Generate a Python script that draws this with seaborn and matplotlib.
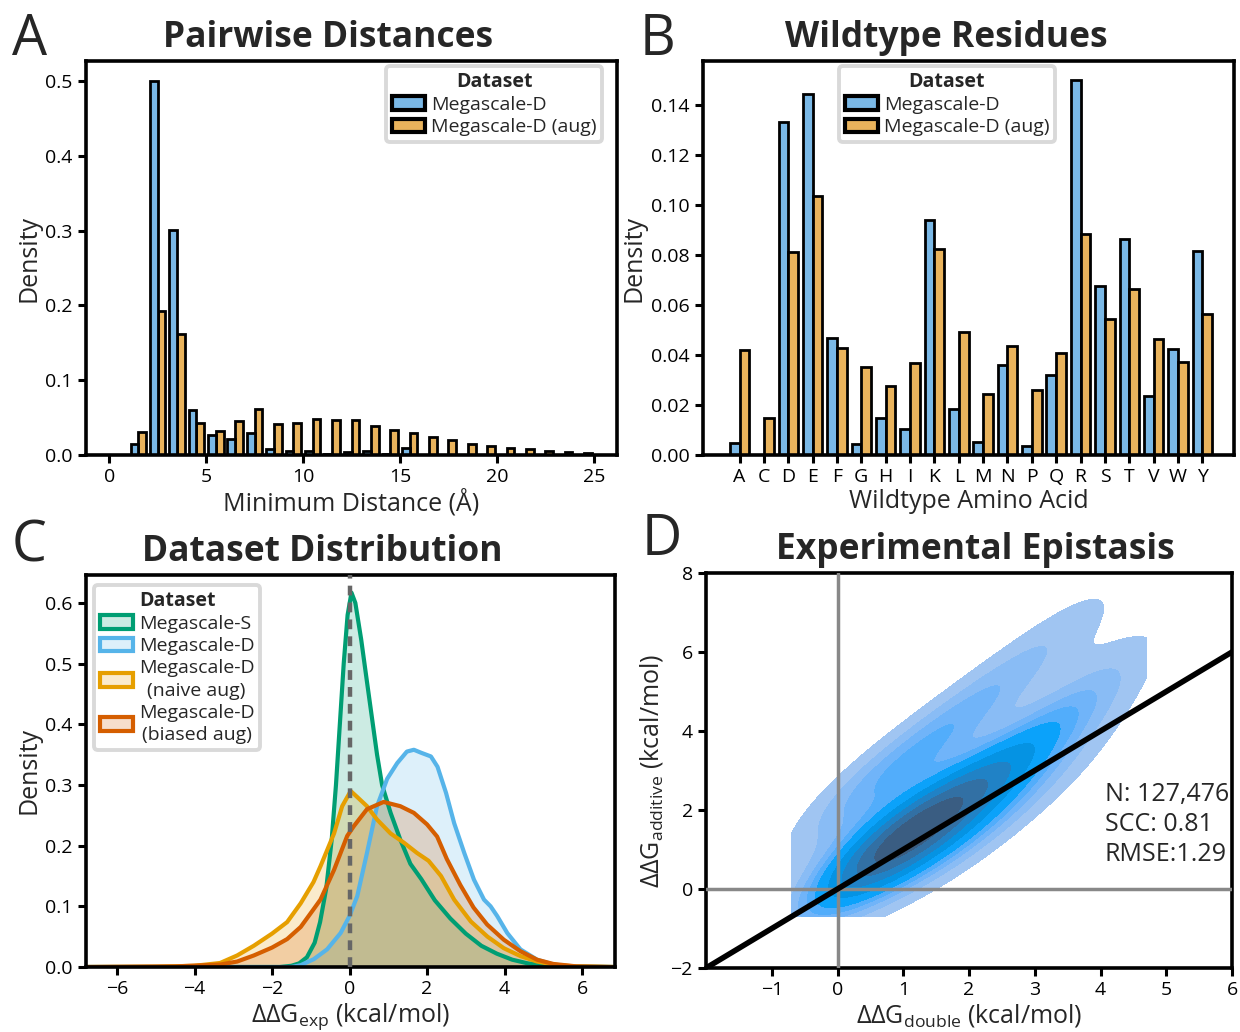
import numpy as np
import pandas as pd
import matplotlib
matplotlib.use("Agg")
import matplotlib.pyplot as plt
import seaborn as sns
from matplotlib.patches import Patch
from matplotlib.colors import to_rgba

# ---------------- data ----------------
# Panel A: pairwise minimum distance histogram (bins of 1 Å, left edges 1..24)
dist_bin_left = list(range(1, 25))
dist_megascale_d = [0.015, 0.500, 0.301, 0.060, 0.027, 0.021, 0.030, 0.008, 0.005, 0.006,
                    0.002, 0.004, 0.005, 0.002, 0.010, 0.0005, 0.0, 0.0, 0.0, 0.0,
                    0.0, 0.0, 0.0, 0.0]
dist_megascale_d_aug = [0.031, 0.193, 0.162, 0.043, 0.032, 0.046, 0.062, 0.041, 0.043, 0.048,
                        0.047, 0.047, 0.039, 0.033, 0.030, 0.024, 0.0196, 0.0147, 0.0124, 0.010,
                        0.008, 0.0058, 0.0044, 0.0027]

# Panel B: wildtype residue densities
aa_letters = ["A", "C", "D", "E", "F", "G", "H", "I", "K", "L",
              "M", "N", "P", "Q", "R", "S", "T", "V", "W", "Y"]
wt_megascale_d = [0.0047, 0.0, 0.133, 0.1444, 0.0469, 0.0043, 0.0147, 0.0104, 0.0939, 0.0184,
                  0.0053, 0.0359, 0.0036, 0.0319, 0.150, 0.0676, 0.0863, 0.0236, 0.0423, 0.0816]
wt_megascale_d_aug = [0.042, 0.0147, 0.081, 0.1036, 0.0429, 0.035, 0.0277, 0.0367, 0.0825, 0.0493,
                      0.0245, 0.0437, 0.0259, 0.0407, 0.0884, 0.0545, 0.0663, 0.0464, 0.0371, 0.0564]

# Panel C: density curves of ddG
s_x = [-6.8, -1.8, -1.5, -1.3, -1.1, -0.9, -0.76, -0.6, -0.46, -0.35, -0.25, -0.15, -0.05, 0.05,
       0.15, 0.3, 0.45, 0.58, 0.71, 0.84, 1.06, 1.31, 1.57, 1.85, 2.2, 2.6, 3.0, 3.4, 3.8, 4.2,
       4.6, 5.0, 5.5, 6.8]
s_y = [0.0, 0.0, 0.002, 0.006, 0.016, 0.04, 0.074, 0.13, 0.21, 0.30, 0.40, 0.50, 0.58, 0.617,
       0.60, 0.54, 0.47, 0.41, 0.35, 0.30, 0.254, 0.21, 0.17, 0.145, 0.11, 0.08, 0.055, 0.035,
       0.022, 0.012, 0.006, 0.003, 0.001, 0.0]
d_x = [-6.8, -1.5, -1.26, -0.92, -0.58, -0.23, 0.0, 0.2, 0.45, 0.71, 0.97, 1.23, 1.48, 1.66,
       1.85, 2.1, 2.27, 2.49, 2.7, 2.96, 3.21, 3.47, 3.64, 3.81, 4.07, 4.41, 4.84, 5.26, 5.69,
       6.2, 6.8]
d_y = [0.0, 0.0, 0.003, 0.013, 0.029, 0.056, 0.084, 0.117, 0.188, 0.265, 0.31, 0.336, 0.355,
       0.358, 0.353, 0.347, 0.33, 0.287, 0.237, 0.188, 0.144, 0.111, 0.1, 0.084, 0.056, 0.029,
       0.012, 0.004, 0.001, 0.0, 0.0]
naive_x = [-6.8, -5.0, -4.0, -3.34, -2.9, -2.47, -2.0, -1.61, -1.26, -0.93, -0.75, -0.4, -0.19,
           0.03, 0.2, 0.45, 0.71, 1.06, 1.4, 1.74, 2.04, 2.36, 2.7, 3.13, 3.56, 3.98, 4.41, 4.84,
           5.26, 5.8, 6.8]
naive_y = [0.0, 0.0005, 0.002, 0.0066, 0.019, 0.035, 0.055, 0.074, 0.105, 0.14, 0.166, 0.22,
           0.265, 0.29, 0.28, 0.265, 0.243, 0.22, 0.205, 0.188, 0.175, 0.15, 0.111, 0.075, 0.05,
           0.031, 0.018, 0.009, 0.004, 0.001, 0.0]
biased_x = [-6.8, -4.5, -3.34, -2.9, -2.47, -2.0, -1.61, -1.26, -0.93, -0.75, -0.4, -0.06, 0.11,
            0.45, 0.88, 1.31, 1.66, 2.0, 2.26, 2.51, 2.86, 3.2, 3.55, 3.98, 4.41, 4.84, 5.26,
            5.86, 6.8]
biased_y = [0.0, 0.001, 0.004, 0.009, 0.019, 0.032, 0.046, 0.066, 0.095, 0.111, 0.16, 0.216,
            0.232, 0.26, 0.272, 0.265, 0.254, 0.235, 0.215, 0.178, 0.135, 0.098, 0.07, 0.045,
            0.026, 0.012, 0.005, 0.001, 0.0]

# Panel D: weighted anchor points (ddG_double, ddG_additive, weight) describing the density
epi_x = [0.0, 0.5, 1.0, 1.5, 2.0, 2.5, 3.0, 3.5, 4.0, 4.4,
         -0.4, 0.0, 0.5, 1.0, 1.5, 2.0, 2.5, 3.0, 3.5, 3.9,
         0.3, 1.0, 1.6, 2.2, 2.8, 3.4, 4.0,
         4.3, 4.5,
         -0.7, -0.4, 4.7, 4.0]
epi_y = [0.3, 0.8, 1.3, 1.8, 2.4, 3.0, 3.7, 4.4, 5.2, 6.0,
         1.4, 2.0, 2.6, 3.2, 3.8, 4.5, 5.2, 5.9, 6.6, 7.3,
         -0.1, 0.5, 1.0, 1.6, 2.3, 3.0, 3.8,
         7.1, 5.0,
         0.3, -0.7, 5.2, 7.65]
epi_w = [3.0, 8.0, 10.0, 7.5, 5.5, 4.0, 3.0, 2.2, 1.5, 1.0,
         0.6, 1.8, 2.4, 2.6, 2.5, 2.2, 1.8, 1.4, 1.0, 0.6,
         0.6, 1.6, 2.4, 2.2, 1.6, 1.1, 0.6,
         0.4, 0.5,
         0.15, 0.15, 0.1, 0.1]
epi_stats = "N: 127,476\nSCC: 0.81\nRMSE:1.29"

# ---------------- style ----------------
sns.set_style("ticks")
plt.rcParams["font.family"] = ["Open Sans", "DejaVu Sans"]
plt.rcParams["mathtext.fontset"] = "custom"
plt.rcParams["mathtext.rm"] = "Open Sans"
plt.rcParams["mathtext.it"] = "Open Sans:italic"
plt.rcParams["mathtext.bf"] = "Open Sans:bold"
plt.rcParams["axes.linewidth"] = 2.6
plt.rcParams["xtick.major.width"] = 2.2
plt.rcParams["ytick.major.width"] = 2.2
plt.rcParams["xtick.major.size"] = 6
plt.rcParams["ytick.major.size"] = 6
plt.rcParams["xtick.labelsize"] = 14
plt.rcParams["ytick.labelsize"] = 14
plt.rcParams["axes.labelsize"] = 18
plt.rcParams["xtick.color"] = "black"
plt.rcParams["ytick.color"] = "black"
plt.rcParams["axes.edgecolor"] = "black"

BLUE_BAR = "#7ab8e6"
ORANGE_BAR = "#e9b35c"
C_GREEN = "#009E73"
C_BLUE = "#56B4E9"
C_ORANGE = "#E69F00"
C_VERM = "#D55E00"

W, H = 1240, 1032
fig = plt.figure(figsize=(W / 100, H / 100), dpi=100)


def axes_px(l, t, r, b):
    return fig.add_axes([l / W, 1 - b / H, (r - l) / W, (b - t) / H])


axA = axes_px(86, 61, 617, 455)
axB = axes_px(703, 61, 1234, 455)
axC = axes_px(86, 575, 615, 967)
axD = axes_px(706, 573, 1232, 968)

LEG_FS = 14


def style_legend(leg):
    fr = leg.get_frame()
    fr.set_edgecolor("#d9d9d9")
    fr.set_linewidth(2.8)
    fr.set_alpha(1)
    leg.get_title().set_fontweight("bold")
    leg.get_title().set_fontsize(LEG_FS)
    for t in leg.get_texts():
        t.set_linespacing(1.3)
        t.set_multialignment("center")


leg_kw = dict(fontsize=LEG_FS, handlelength=1.7, handletextpad=0.3, labelspacing=0.22,
              borderpad=0.3, borderaxespad=0.0, fancybox=True, title="Dataset")

# ---------------- Panel A ----------------
dfA = pd.DataFrame({
    "dist": [b + 0.5 for b in dist_bin_left] * 2,
    "density": dist_megascale_d + dist_megascale_d_aug,
    "Dataset": ["Megascale-D"] * len(dist_bin_left) + ["Megascale-D (aug)"] * len(dist_bin_left),
})
sns.histplot(data=dfA, x="dist", weights="density", hue="Dataset",
             binwidth=1, binrange=(1, 25), multiple="dodge", shrink=0.8, stat="count",
             palette=[BLUE_BAR, ORANGE_BAR], edgecolor="black", linewidth=2.0,
             alpha=1, legend=False, ax=axA)
axA.set_xlim(-1.2, 26.2)
axA.set_ylim(0, 0.527)
axA.set_xticks([0, 5, 10, 15, 20, 25])
axA.set_yticks([0.0, 0.1, 0.2, 0.3, 0.4, 0.5])
axA.set_xlabel("Minimum Distance (Å)", labelpad=2)
axA.set_ylabel("Density", labelpad=3)
hA = [Patch(facecolor=BLUE_BAR, edgecolor="black", lw=3),
      Patch(facecolor=ORANGE_BAR, edgecolor="black", lw=3)]
legA = axA.legend(hA, ["Megascale-D", "Megascale-D (aug)"],
                  loc="upper right", bbox_to_anchor=(0.972, 0.988), **leg_kw)
style_legend(legA)

# ---------------- Panel B ----------------
dfB = pd.DataFrame({
    "aa": aa_letters * 2,
    "density": wt_megascale_d + wt_megascale_d_aug,
    "Dataset": ["Megascale-D"] * len(aa_letters) + ["Megascale-D (aug)"] * len(aa_letters),
})
sns.barplot(data=dfB, x="aa", y="density", hue="Dataset", order=aa_letters,
            palette=[BLUE_BAR, ORANGE_BAR], saturation=1, width=0.8,
            edgecolor="black", linewidth=2.0, legend=False, ax=axB)
axB.set_xlim(-1.5, 20.3)
axB.set_ylim(0, 0.1575)
axB.set_yticks([0.0, 0.02, 0.04, 0.06, 0.08, 0.10, 0.12, 0.14])
axB.set_yticklabels(["0.00", "0.02", "0.04", "0.06", "0.08", "0.10", "0.12", "0.14"])
axB.set_xlabel("Wildtype Amino Acid", labelpad=2)
axB.set_ylabel("Density", labelpad=3)
legB = axB.legend(hA, ["Megascale-D", "Megascale-D (aug)"],
                  loc="upper left", bbox_to_anchor=(0.256, 0.988), **leg_kw)
style_legend(legB)

# ---------------- Panel C ----------------
curves = [(s_x, s_y, C_GREEN), (d_x, d_y, C_BLUE),
          (naive_x, naive_y, C_ORANGE), (biased_x, biased_y, C_VERM)]
for xs, ys, col in curves:
    axC.fill_between(xs, ys, color=col, alpha=0.2, lw=0)
    sns.lineplot(x=xs, y=ys, color=col, lw=3, ax=axC, estimator=None, sort=False)
axC.axvline(0, color="#666666", lw=3.2, ls=(0, (2.2, 1.6)), zorder=5)
axC.set_xlim(-6.8, 6.85)
axC.set_ylim(0, 0.646)
axC.set_xticks([-6, -4, -2, 0, 2, 4, 6])
axC.set_yticks([0.0, 0.1, 0.2, 0.3, 0.4, 0.5, 0.6])
axC.set_xlabel(r"ΔΔG$_{\mathrm{exp}}$ (kcal/mol)", labelpad=2)
axC.set_ylabel("Density", labelpad=3)
hC = [Patch(facecolor=to_rgba(c, 0.2), edgecolor=c, lw=3) for _, _, c in curves]
legC = axC.legend(hC, ["Megascale-S", "Megascale-D", "Megascale-D\n(naive aug)",
                       "Megascale-D\n(biased aug)"],
                  loc="upper left", bbox_to_anchor=(0.015, 0.975), **leg_kw)
style_legend(legC)

# ---------------- Panel D ----------------
sns.kdeplot(x=epi_x, y=epi_y, weights=epi_w, fill=True, color="#0072B2",
            cut=0, levels=10, thresh=0.05, bw_adjust=1.0, ax=axD)
axD.axvline(0, color="#888888", lw=2.5, zorder=3)
axD.axhline(0, color="#888888", lw=2.5, zorder=3)
axD.axline((0, 0), slope=1, color="black", lw=4, zorder=4)
axD.set_xlim(-2, 6)
axD.set_ylim(-2, 8)
axD.set_xticks([-1, 0, 1, 2, 3, 4, 5, 6])
axD.set_yticks([-2, 0, 2, 4, 6, 8])
axD.set_xlabel(r"ΔΔG$_{\mathrm{double}}$ (kcal/mol)", labelpad=2)
axD.set_ylabel(r"ΔΔG$_{\mathrm{additive}}$ (kcal/mol)", labelpad=4)
axD.text(0.758, 0.47, epi_stats, transform=axD.transAxes, fontsize=18,
         va="top", ha="left", linespacing=1.25)

# ---------------- titles and panel letters ----------------
for (cx, by, txt) in [(328, 47, "Pairwise Distances"), (946, 47, "Wildtype Residues"),
                      (322, 561, "Dataset Distribution"), (975, 559, "Experimental Epistasis")]:
    fig.text(cx / W, 1 - by / H, txt, ha="center", va="baseline",
             fontsize=25.5, fontweight="bold")
for (lx, by, txt) in [(12, 55, "A"), (640, 55, "B"), (12, 562, "C"), (642, 555, "D")]:
    fig.text(lx / W, 1 - by / H, txt, ha="left", va="baseline", fontsize=40)

fig.savefig("out.png", dpi=100)
